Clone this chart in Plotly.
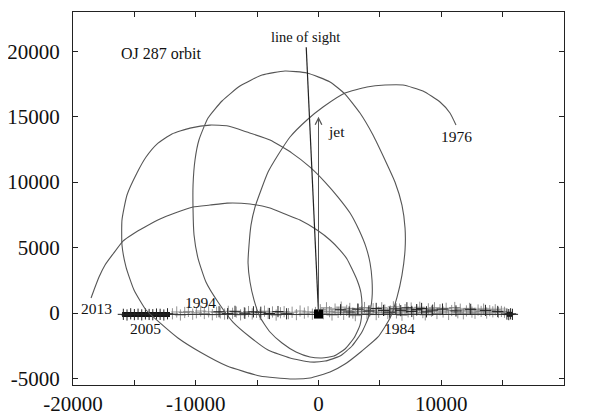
import plotly.graph_objects as go

# ---- orbit (data units) ----
# open path: 1976 -> ... -> 2013
orbit1_x = [11200, 10710, 9900, 8510, 6880, 5420, 3950, 2160, 370, -940, -2320, -3300, -4110, -4680,
            -5170, -5500, -5660, -5740, -5580, -5250, -4770, -3950, -2970, -1830, -690, 285, 1260,
            2160, 2890, 3380, 3540, 3460, 3140, 2320, 1750, 940, -120, -1510, -2730, -3950, -5580,
            -7450, -8840, -10220, -11690, -12910, -14140, -15110, -15930, -16740, -17390, -17880,
            -18290, -18530]
orbit1_y = [14360, 15280, 16120, 16960, 17420, 17420, 17270, 16810, 15740, 14750, 13450, 12070, 10770,
            9400, 8100, 6720, 5200, 3820, 2370, 990, -310, -1450, -2290, -2980, -3360, -3440, -3290,
            -2750, -1910, -920, 230, 1530, 2520, 4130, 4810, 5580, 6340, 7110, 7560, 8020, 8330,
            8400, 8250, 8100, 7640, 7180, 6570, 6040, 5500, 4510, 3670, 2750, 1760, 1150]

# closed loop
orbit2_x = [-14790, -15600, -16010, -16010, -15680, -15030, -14050, -12910, -11450, -9650, -7450,
            -4770, -2320, -690, 940, 2160, 3540, 4850, 5830, 6400, 6800, 7050, 7050, 6800, 6230,
            5420, 4440, 3380, 2160, 940, -940, -2730, -4600, -6400, -7860, -9000, -9740, -10060,
            -10220, -10220, -10140, -9820, -9170, -8190, -6970, -5580, -4110, -2320, -690, 530,
            1750, 2730, 3540, 4110, 4360, 4360, 4200, 3870, 3300, 2570, 1590, 530, -690, -2160,
            -3950, -5830, -7370, -8840, -10470, -11940, -13160, -14050, -14790]
orbit2_y = [10700, 9020, 7110, 5200, 3510, 1760, 230, -760, -1910, -2980, -4050, -4810, -5040, -4970,
            -4510, -3900, -2900, -1830, -380, 1220, 2900, 4810, 6490, 8250, 10010, 11690, 13600,
            15280, 16730, 17650, 18340, 18490, 18180, 17340, 16200, 14900, 13220, 11690, 9780, 7870,
            5960, 4200, 2370, 840, -690, -1830, -2830, -3440, -3740, -3670, -3290, -2520, -1450,
            -230, 1150, 2520, 3820, 5040, 6340, 7640, 8860, 10010, 11150, 12220, 13220, 13830,
            14290, 14360, 14130, 13680, 12910, 11920, 10700]

# ---- accretion disk (seen edge-on) ----
disk_line_x = [-16000, 15800]
disk_line_y = [-110, -110]
disk_band_x = [-16000, -12100, None, 15350, 15800]
disk_band_y = [-110, -110, None, -100, -100]
disk_haze_x = [100, 15300]
disk_haze_y = [130, 130]

disk_light_x = [-11900, -11550, -11250, -10900, -10600, -10250, -9950, -9600, -9300, -8950, -8650,
                -8300, -8000, -7650, -7350, -7000, -6700, -6350, -6050, -5700, -5400, -5050, -4750,
                -4400, -4100, -3750, -3450, -3100, -2800, -2450, -2150, -1800, -1500, -1150, -850,
                -500, -250,
                150, 400, 650, 900, 1100, 1350, 1600, 1850, 2050, 2300, 2550, 2800, 3000, 3250, 3500,
                3750, 3950, 4200, 4450, 4700, 4900, 5150, 5400, 5650, 5850, 6100, 6350, 6600, 6800,
                7050, 7300, 7550, 7750, 8000, 8250, 8500, 8700, 8950, 9200, 9450, 9650, 9900, 10150,
                10400, 10600, 10850, 11100, 11350, 11550, 11800, 12050, 12300, 12500, 12750, 13000,
                13250, 13450, 13700, 13950, 14200, 14400, 14650, 14900, 15150]
disk_light_y = [-60, 80, -150, 40, 120, -90, 20, 150, -40, 90, -130, 60, 10, -80, 130, -20, 70, -140,
                30, 110, -70, 50, -110, 140, -30, 80, -160, 20, 100, -50, 60, -120, 150, -10, 90,
                -90, 40,
                250, -50, 400, 100, -150, 300, 50, 450, -100, 200, 350, 0, -200, 280, 120, 420, -60,
                180, 330, -120, 60, 400, 230, -30, 150, 470, 10, 300, -170, 260, 90, 380, -80, 210,
                440, 30, -140, 320, 140, 400, -40, 250, 80, 360, -110, 190, 420, 20, 290, -60, 160,
                350, 70, -20, 230, 120, 300, 0, 180, 90, 250, 40, 120, 60]

disk_dark_x = [-15900, -15600, -15300, -15000, -14700, -14400, -14100, -13800, -13500, -13200,
               -12900, -12600, -12300, -8100, -7400, -6800, -6000, -5300, -4700, -4000, -3300,
               -2600, 1800, 2500, 3200, 4100, 4700, 5300, 5800, 6300, 6700, 7200, 7600, 8000, 8400,
               8800, 9300, 10100, 11200, 12400, 13600, 14600, 15350, 15500, 15650, 15800]
disk_dark_y = [-100, -150, -60, -120, -90, -140, -70, -110, -130, -80, -100, -150, -60, 100, -50,
               130, -20, 90, 60, -40, 110, -60, 250, 80, 300, 150, 350, 200, 60, 320, 180, 400, 120,
               260, 350, 90, 220, 300, 160, 280, 200, 120, -80, -120, -60, -100]

primary_x = [0]
primary_y = [-80]

los_x = [0, -1000]
los_y = [0, 20300]
jet_base = (0, 0)
jet_tip = (0, 15000)

labels_text = ["OJ 287 orbit", "line of sight", "jet", "1976", "1984", "1994", "2005", "2013"]
labels_x = [-12750, -1020, 1430, 11280, 6560, -9650, -14130, -18050]
labels_y = [19860, 21090, 13900, 13450, -1220, 840, -1220, 380]
labels_size = [16, 14.5, 15.5, 15.5, 15.5, 15.5, 15.5, 15.5]

x_ticks = [-20000, -15000, -10000, -5000, 0, 5000, 10000, 15000, 20000]
x_ticktext = ["-20000", "", "-10000", "", "0", "", "10000", "", "20000"]
y_ticks = [-5000, 0, 5000, 10000, 15000, 20000]
y_ticktext = ["-5000", "0", "5000", "10000", "15000", "20000"]

FONT = "Liberation Serif, Times New Roman, serif"

fig = go.Figure()

fig.add_trace(go.Scatter(x=disk_haze_x, y=disk_haze_y, mode="lines",
                         line=dict(color="rgba(110,110,110,0.30)", width=7), hoverinfo="skip"))
fig.add_trace(go.Scatter(x=disk_light_x, y=disk_light_y, mode="markers",
                         marker=dict(symbol="cross-thin", size=8, color="rgba(120,120,120,0.8)",
                                     line=dict(width=1, color="rgba(120,120,120,0.8)")),
                         hoverinfo="skip"))
fig.add_trace(go.Scatter(x=disk_line_x, y=disk_line_y, mode="lines",
                         line=dict(color="#333333", width=1), hoverinfo="skip"))
fig.add_trace(go.Scatter(x=disk_band_x, y=disk_band_y, mode="lines",
                         line=dict(color="#111111", width=5), hoverinfo="skip"))
fig.add_trace(go.Scatter(x=disk_dark_x, y=disk_dark_y, mode="markers",
                         marker=dict(symbol="cross-thin", size=8, color="#222222",
                                     line=dict(width=1, color="#222222")),
                         hoverinfo="skip"))

fig.add_trace(go.Scatter(x=orbit1_x, y=orbit1_y, mode="lines",
                         line=dict(color="#555555", width=1.1, shape="spline", smoothing=0.5),
                         hoverinfo="skip"))
fig.add_trace(go.Scatter(x=orbit2_x, y=orbit2_y, mode="lines",
                         line=dict(color="#555555", width=1.1, shape="spline", smoothing=0.5),
                         hoverinfo="skip"))

fig.add_trace(go.Scatter(x=los_x, y=los_y, mode="lines",
                         line=dict(color="#222222", width=1.2), hoverinfo="skip"))

fig.add_trace(go.Scatter(x=primary_x, y=primary_y, mode="markers",
                         marker=dict(symbol="square", size=9, color="#000000"), hoverinfo="skip"))

fig.add_annotation(x=jet_tip[0], y=jet_tip[1], ax=jet_base[0], ay=jet_base[1],
                   xref="x", yref="y", axref="x", ayref="y", text="", showarrow=True,
                   arrowhead=5, arrowsize=1.3, arrowwidth=1, arrowcolor="#555555")

for t, lx, ly, s in zip(labels_text, labels_x, labels_y, labels_size):
    fig.add_annotation(x=lx, y=ly, xref="x", yref="y", text=t, showarrow=False,
                       font=dict(family=FONT, size=s, color="#111111"),
                       xanchor="center", yanchor="middle")

fig.update_xaxes(range=[-20000, 20000], tickvals=x_ticks, ticktext=x_ticktext, automargin=False,
                 ticks="inside", ticklen=5, tickcolor="#222222", showline=True, mirror="ticks",
                 linecolor="#222222", linewidth=1.2, showgrid=False, zeroline=False,
                 tickfont=dict(family=FONT, size=21, color="#111111"), ticklabelstandoff=0)
fig.update_yaxes(range=[-5500, 23000], tickvals=y_ticks, ticktext=y_ticktext, automargin=False,
                 ticks="inside", ticklen=5, tickcolor="#222222", showline=True, mirror="ticks",
                 linecolor="#222222", linewidth=1.2, showgrid=False, zeroline=False,
                 tickfont=dict(family=FONT, size=21, color="#111111"), ticklabelstandoff=8)

# the page places the figure 8px from the top-left corner of the window
fig.update_layout(width=581, height=407, margin=dict(l=65, r=25, t=4, b=30),
                  paper_bgcolor="white", plot_bgcolor="white", showlegend=False)

fig.write_html("out.html")
